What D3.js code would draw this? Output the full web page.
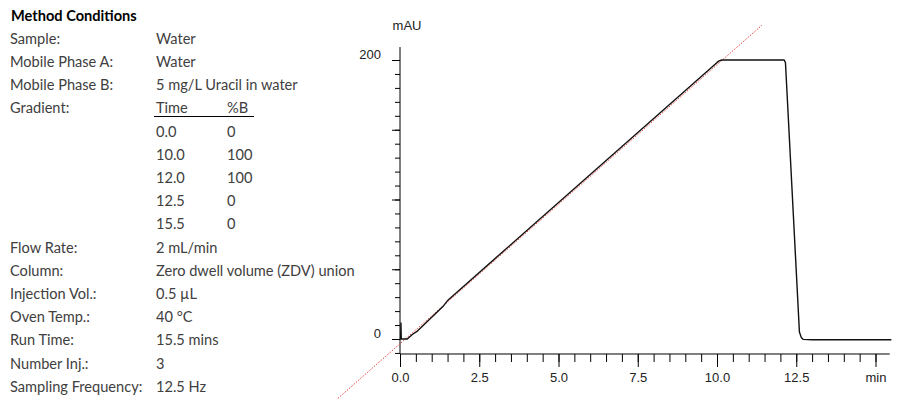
<!DOCTYPE html>
<html>
<head>
  <meta charset="utf-8">
  <title>Gradient Delay Trace</title>
  <script src="https://d3js.org/d3.v7.min.js"></script>
  <style>
    body { margin: 0; background: #fff; }
    .cond { font-family: Lato, "Open Sans", sans-serif; font-size: 14.6px; fill: #404040; }
    .title { font-weight: bold; fill: #000; }
    .axis text { font-family: "Liberation Sans", Arial, sans-serif; font-size: 13px; fill: #222; }
    .axis line { stroke: #000; }
  </style>
</head>
<body>
  <svg width="903" height="406"></svg>

  <script>
    // method conditions (left panel)
    const condLabels = ["Sample:", "Mobile Phase A:", "Mobile Phase B:", "Gradient:", "Flow Rate:",
      "Column:", "Injection Vol.:", "Oven Temp.:", "Run Time:", "Number Inj.:", "Sampling Frequency:"];
    const condValues = ["Water", "Water", "5 mg/L Uracil in water", "", "2 mL/min",
      "Zero dwell volume (ZDV) union", "0.5 µL", "40 °C", "15.5 mins", "3", "12.5 Hz"];
    const condRows = [1, 2, 3, 4, 10, 11, 12, 13, 14, 15, 16];
    const gradTime = ["0.0", "10.0", "12.0", "12.5", "15.5"];
    const gradB = ["0", "100", "100", "0", "0"];

    // detector trace (min, mAU)
    const traceTime = [0, 0.02, 0.03, 0.04, 0.23, 0.40, 0.55, 1.37, 1.52, 9.95, 10.05, 10.15,
      12.12, 12.16, 12.60, 12.66, 12.72, 13.0, 15.5];
    const traceMAU = [0, 0, 11.5, 0, 0, 3.4, 5.7, 23.7, 28.0, 197.2, 199.2, 200,
      200, 198, 5, 1, -0.3, -0.5, -0.5];
    // ideal gradient line (red dotted)
    const idealTime = [-1.96, 11.42];
    const idealMAU = [-42.6, 225];

    const xMajor = [0, 2.5, 5, 7.5, 10, 12.5, 15];
    const xMinor = d3.range(0, 15.01, 0.5);
    const yMajor = [0, 50, 100, 150, 200];
    const yMinor = d3.range(-10, 201, 10);
    const yLabels = [0, 200];

    const svg = d3.select("svg");

    // ---- conditions text ----
    const rowY = i => 20.5 + i * 23.2;
    svg.append("text").attr("class", "cond title").attr("x", 11).attr("y", rowY(0))
      .text("Method Conditions");
    condLabels.forEach((t, i) => {
      svg.append("text").attr("class", "cond").attr("x", 10).attr("y", rowY(condRows[i])).text(t);
      svg.append("text").attr("class", "cond").attr("x", 156).attr("y", rowY(condRows[i])).text(condValues[i]);
    });
    svg.append("text").attr("class", "cond").attr("x", 156).attr("y", rowY(4)).text("Time");
    svg.append("text").attr("class", "cond").attr("x", 227).attr("y", rowY(4)).text("%B");
    svg.append("line").attr("x1", 154).attr("x2", 254).attr("y1", 116.5).attr("y2", 116.5)
      .attr("stroke", "#000").attr("stroke-width", 1);
    gradTime.forEach((t, i) => {
      svg.append("text").attr("class", "cond").attr("x", 156).attr("y", rowY(5 + i)).text(t);
      svg.append("text").attr("class", "cond").attr("x", 227).attr("y", rowY(5 + i)).text(gradB[i]);
    });

    // ---- chart ----
    const x = d3.scaleLinear().domain([0, 15]).range([400, 875.5]);
    const y = d3.scaleLinear().domain([0, 200]).range([339, 60]);
    const xAxisY = y(-10.75);

    // x axis
    const gx = svg.append("g").attr("class", "axis").attr("transform", `translate(0,${xAxisY})`);
    gx.append("g").call(d3.axisBottom(x).tickValues(xMinor).tickSize(8).tickFormat("").tickSizeOuter(0))
      .call(g => g.select(".domain").remove());
    gx.append("g").call(d3.axisBottom(x).tickValues(xMajor).tickSize(13).tickSizeOuter(0)
        .tickFormat(d => d === 15 ? "min" : d3.format(".1f")(d)))
      .call(g => g.select(".domain").remove())
      .call(g => g.selectAll("text").attr("y", 19).attr("dy", "0.71em"));
    gx.append("line").attr("x1", x(0)).attr("x2", x(15.45)).attr("stroke", "#000");

    // y axis
    const gy = svg.append("g").attr("class", "axis").attr("transform", `translate(${x(0)},0)`);
    gy.append("g").call(d3.axisLeft(y).tickValues(yMinor).tickSize(5).tickFormat("").tickSizeOuter(0))
      .call(g => g.select(".domain").remove());
    gy.append("g").call(d3.axisLeft(y).tickValues(yMajor).tickSize(8).tickSizeOuter(0)
        .tickFormat(d => yLabels.includes(d) ? d : ""))
      .call(g => g.select(".domain").remove())
      .call(g => g.selectAll("text").attr("x", -19).attr("dy", "-0.15em"));
    gy.append("line").attr("y1", y(209.3)).attr("y2", xAxisY).attr("stroke", "#000");
    gy.append("text").attr("x", 7).attr("y", 30).attr("text-anchor", "middle").text("mAU");

    const line = d3.line().x(d => x(d[0])).y(d => y(d[1]));

    // ideal gradient (red dotted)
    svg.append("path").datum(d3.zip(idealTime, idealMAU))
      .attr("d", line).attr("fill", "none")
      .attr("stroke", "#e8403c").attr("stroke-width", 1).attr("stroke-dasharray", "1.5,1.5");

    // measured trace
    svg.append("path").datum(d3.zip(traceTime, traceMAU))
      .attr("d", line).attr("fill", "none")
      .attr("stroke", "#111").attr("stroke-width", 1.4).attr("stroke-linejoin", "round");
  </script>
</body>
</html>
